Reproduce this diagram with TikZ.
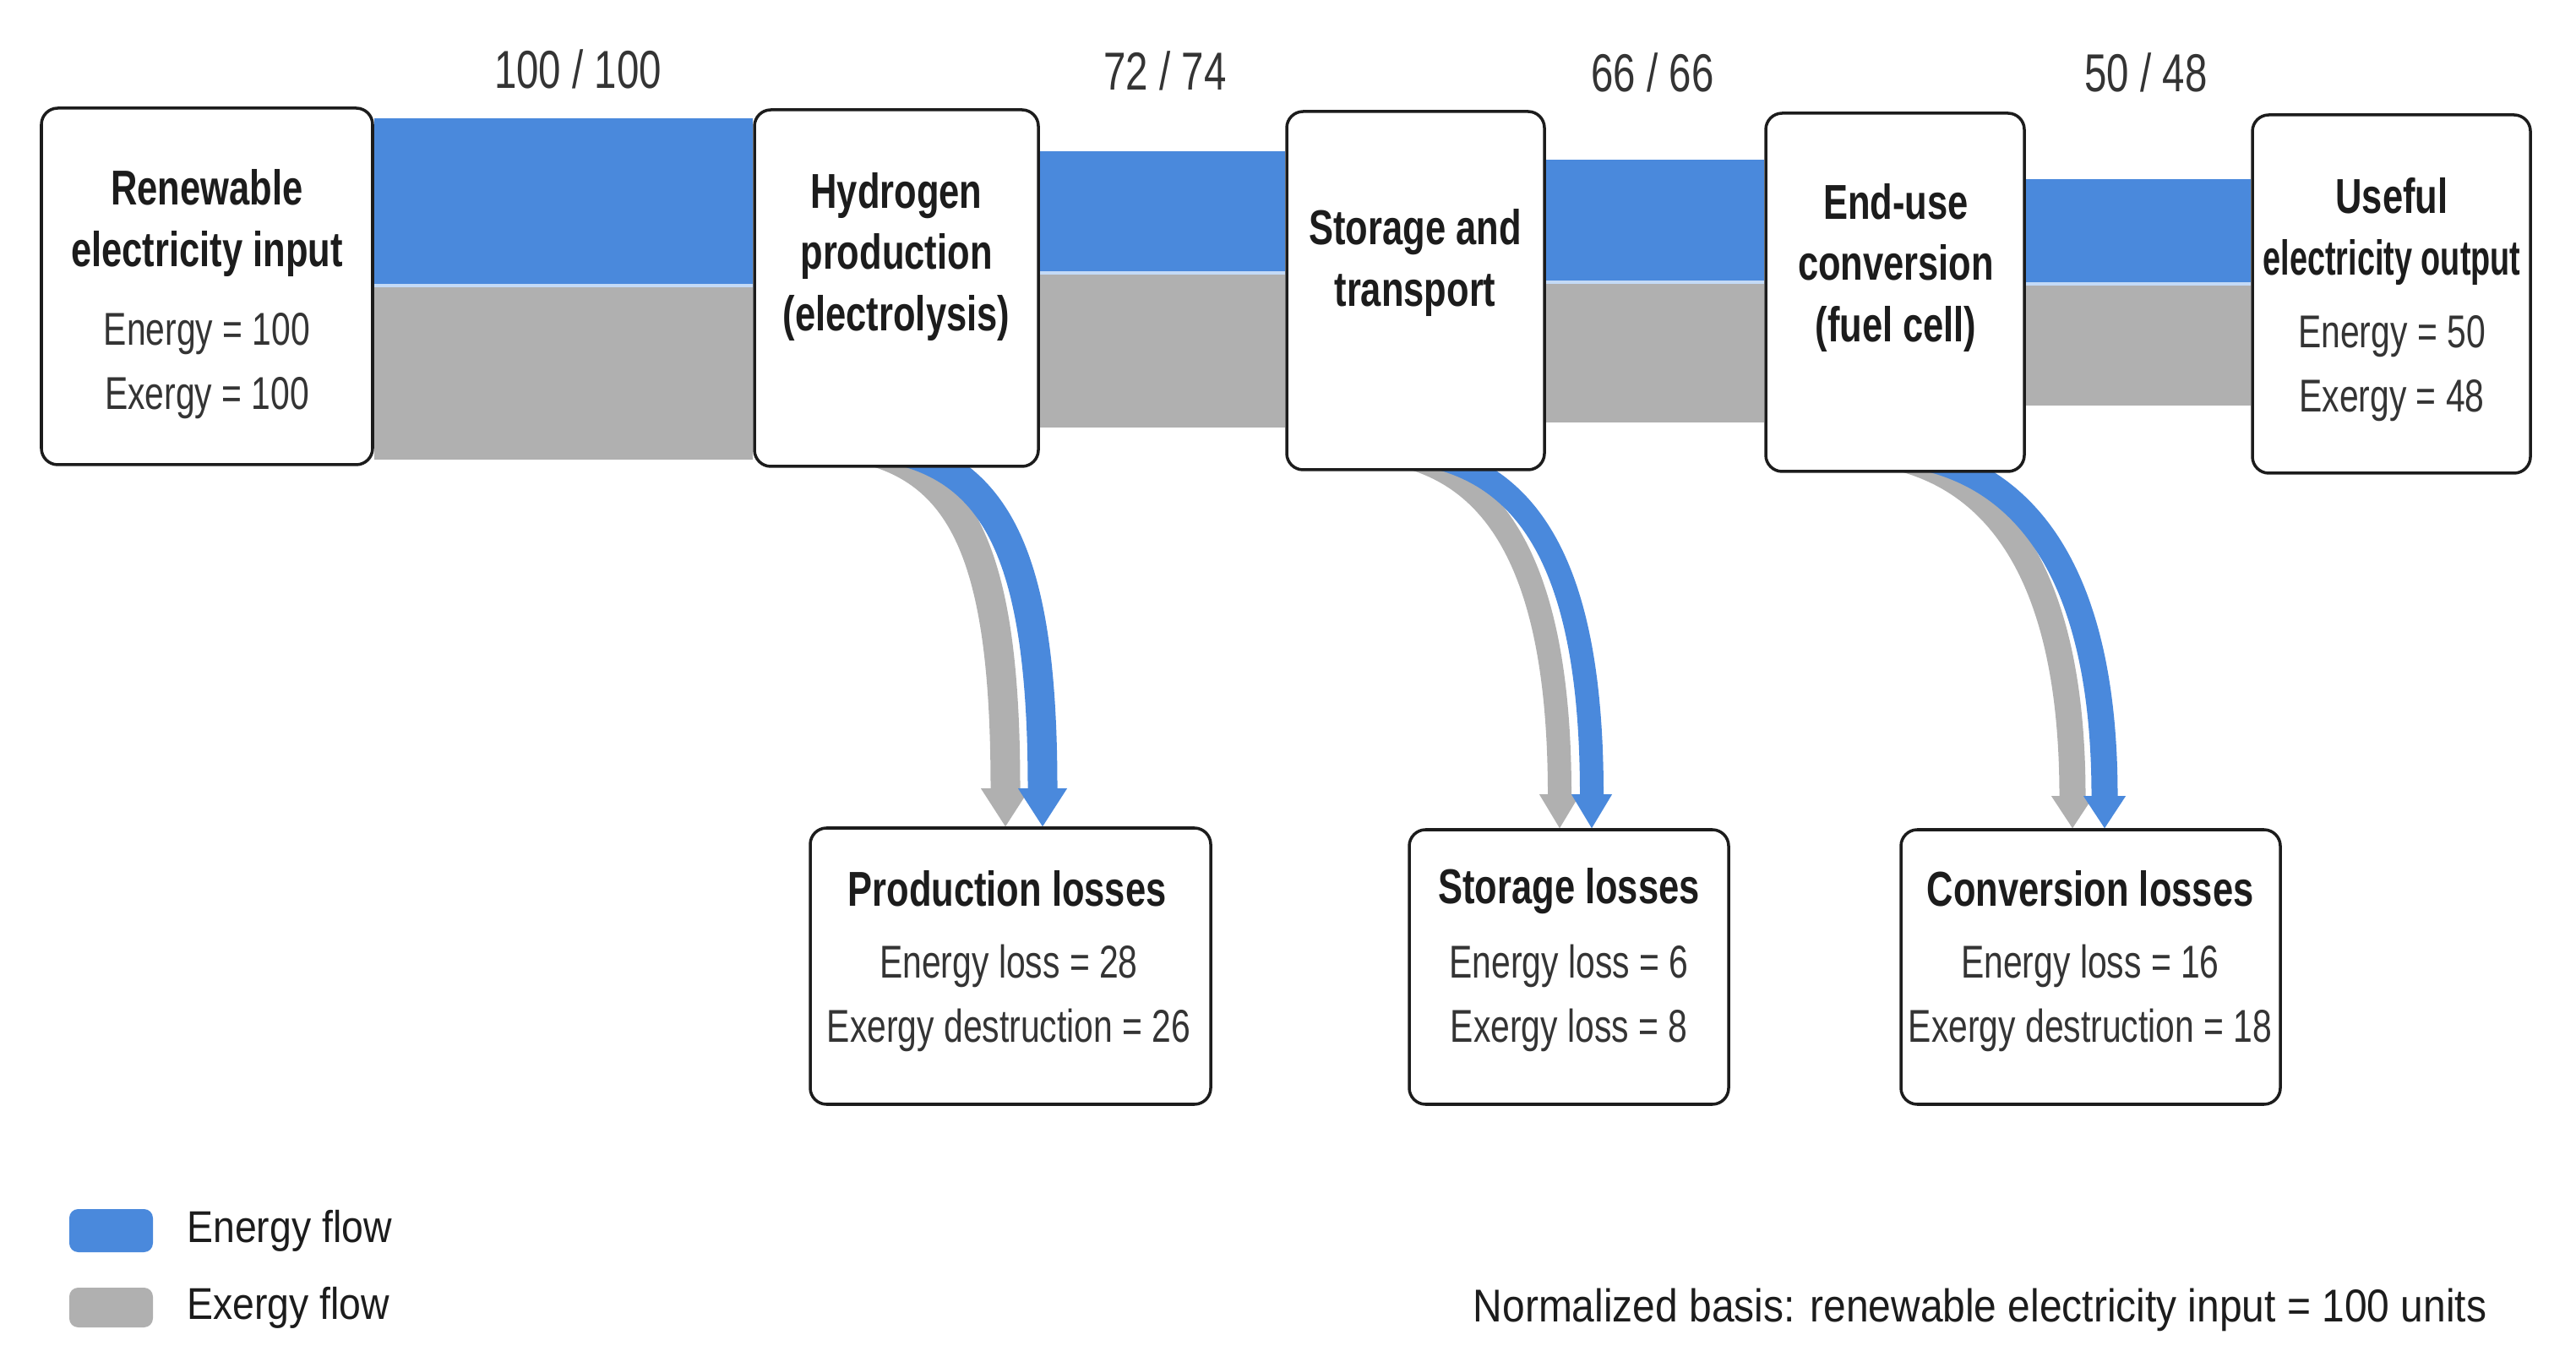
\documentclass[tikz,border=0pt]{standalone}
\usepackage{fontspec}
\usepackage{graphicx}
\setmainfont{Liberation Sans}[FakeStretch=0.75]
\newfontfamily\widesans{Liberation Sans}[FakeStretch=0.88]
\usepackage{xcolor}
\usepackage{tikz}
\usetikzlibrary{arrows.meta,positioning,calc,backgrounds}

\definecolor{eflow}{RGB}{74,137,220}
\definecolor{xflow}{RGB}{176,176,176}
\definecolor{ink}{RGB}{28,28,28}
\definecolor{txt}{RGB}{52,52,52}
\definecolor{seam}{RGB}{196,218,246}

\begin{document}
\begin{tikzpicture}[
  stage/.style={draw=ink, fill=white, rounded corners=5.5pt, line width=1pt, inner sep=0pt},
  loss/.style={draw=ink, fill=white, rounded corners=5.5pt, line width=1pt, inner sep=0pt},
  ttl/.style={font=\fontsize{16.5}{20.5}\selectfont\bfseries, text=ink, align=center, inner sep=0pt},
  val/.style={font=\fontsize{15.5}{21.6}\selectfont, text=txt, align=center, inner sep=0pt},
  flowlabel/.style={font=\fontsize{18}{22}\selectfont, text=txt, inner sep=0pt},
  swatch/.style={rounded corners=3pt, inner sep=0pt, minimum width=0.99cm},
  legtxt/.style={font=\widesans\fontsize{15}{18}\selectfont, text=ink, inner sep=0pt},
  seamline/.style={draw=seam, line width=0.035cm},
  prodarrow/.style={line width=0.35cm, -{Triangle[length=0.45cm, width=0.58cm, line width=0pt]}},
  storarrow/.style={line width=0.28cm, -{Triangle[length=0.40cm, width=0.48cm, line width=0pt]}},
  convarrow/.style={line width=0.31cm, -{Triangle[length=0.38cm, width=0.50cm, line width=0pt]}}
]
\useasboundingbox (0,0) rectangle (30.49,-16.12);

% Stages
\node[stage, minimum width=3.92cm, minimum height=4.22cm] (IN) at (2.45,-3.39) {};
\node[stage, minimum width=3.36cm, minimum height=4.22cm] (H2) at (10.61,-3.41) {};
\node[stage, minimum width=3.05cm, minimum height=4.24cm] (ST) at (16.755,-3.44) {};
\node[stage, minimum width=3.06cm, minimum height=4.24cm] (FC) at (22.43,-3.46) {};
\node[stage, minimum width=3.29cm, minimum height=4.24cm] (OUT) at (28.305,-3.48) {};

\node[ttl] (INt) at (2.45,-2.64) {Renewable\\electricity input};
\node[val] (INv) at (2.45,-4.33) {Energy = 100\\Exergy = 100};
\node[ttl] (H2t) at (10.61,-3.04) {Hydrogen\\production\\(electrolysis)};
\node[ttl] (STt) at (16.75,-3.11) {Storage and\\transport};
\node[ttl] (FCt) at (22.44,-3.17) {End-use\\conversion\\(fuel cell)};
\node[ttl] (OUTt) at (28.31,-2.74) {Useful\\\scalebox{0.87}[1]{electricity output}};
\node[val] (OUTv) at (28.31,-4.365) {Energy = 50\\Exergy = 48};

% Losses
\node[loss, minimum width=4.74cm, minimum height=3.27cm] (PL) at (11.96,-11.435) {};
\node[loss, minimum width=3.78cm, minimum height=3.25cm] (SL) at (18.57,-11.445) {};
\node[loss, minimum width=4.49cm, minimum height=3.25cm] (CL) at (24.745,-11.445) {};

\node[ttl] (PLt) at (11.92,-10.52) {Production losses};
\node[val] (PLv) at (11.94,-11.81) {Energy loss = 28\\Exergy destruction = 26};
\node[ttl] (SLt) at (18.57,-10.55) {Storage losses};
\node[val] (SLv) at (18.57,-11.81) {Energy loss = 6\\Exergy loss = 8};
\node[ttl] (CLt) at (24.74,-10.52) {Conversion losses};
\node[val] (CLv) at (24.74,-11.81) {Energy loss = 16\\Exergy destruction = 18};

% Flow values
\node[flowlabel] (F1) at (6.84,-0.82) {100 / 100};
\node[flowlabel] (F2) at (13.79,-0.84) {72 / 74};
\node[flowlabel] (F3) at (19.56,-0.86) {66 / 66};
\node[flowlabel] (F4) at (25.40,-0.86) {50 / 48};

\begin{scope}[on background layer]
% Bands between stages
\fill[eflow] (IN.east |- 0,-1.40) rectangle (H2.west |- 0,-3.38);
\fill[xflow] (IN.east |- 0,-3.38) rectangle (H2.west |- 0,-5.44);
\draw[seamline] (IN.east |- 0,-3.38) -- (H2.west |- 0,-3.38);

\fill[eflow] (H2.east |- 0,-1.79) rectangle (ST.west |- 0,-3.23);
\fill[xflow] (H2.east |- 0,-3.23) rectangle (ST.west |- 0,-5.06);
\draw[seamline] (H2.east |- 0,-3.23) -- (ST.west |- 0,-3.23);

\fill[eflow] (ST.east |- 0,-1.89) rectangle (FC.west |- 0,-3.34);
\fill[xflow] (ST.east |- 0,-3.34) rectangle (FC.west |- 0,-5.00);
\draw[seamline] (ST.east |- 0,-3.34) -- (FC.west |- 0,-3.34);

\fill[eflow] (FC.east |- 0,-2.12) rectangle (OUT.west |- 0,-3.36);
\fill[xflow] (FC.east |- 0,-3.36) rectangle (OUT.west |- 0,-4.80);
\draw[seamline] (FC.east |- 0,-3.36) -- (OUT.west |- 0,-3.36);

% Loss arrows, starting just inside the stage boxes
\draw[prodarrow, xflow] ($(H2.south -| 10.25,0)+(0,0.22)$) .. controls (11.45,-5.62) and (11.90,-6.70) .. (11.90,0 |- PL.north);
\draw[prodarrow, eflow] ($(H2.south -| 10.60,0)+(0,0.22)$) .. controls (11.85,-5.60) and (12.34,-6.70) .. (12.34,0 |- PL.north);

\draw[storarrow, xflow] ($(ST.south -| 16.55,0)+(0,0.20)$) .. controls (17.75,-5.64) and (18.46,-6.80) .. (18.46,0 |- SL.north);
\draw[storarrow, eflow] ($(ST.south -| 16.85,0)+(0,0.20)$) .. controls (18.15,-5.62) and (18.84,-6.80) .. (18.84,0 |- SL.north);

\draw[convarrow, xflow] ($(FC.south -| 22.35,0)+(0,0.21)$) .. controls (23.70,-5.66) and (24.53,-6.90) .. (24.53,0 |- CL.north);
\draw[convarrow, eflow] ($(FC.south -| 22.65,0)+(0,0.21)$) .. controls (24.05,-5.64) and (24.91,-6.90) .. (24.91,0 |- CL.north);
\end{scope}

% Legend
\node[swatch, fill=eflow, minimum height=0.51cm] (LE) at (1.315,-14.565) {};
\node[swatch, fill=xflow, minimum height=0.47cm] (LX) at (1.315,-15.475) {};
\node[legtxt, right=0.39cm of LE] (LEt) {Energy flow};
\node[legtxt, right=0.39cm of LX] (LXt) {Exergy flow};

\node[anchor=east, font=\widesans\fontsize{15.5}{18}\selectfont, text=ink, inner sep=0pt] (NB) at (29.44,-15.50)
  {Normalized basis: renewable electricity input = 100 units};
\end{tikzpicture}
\end{document}
